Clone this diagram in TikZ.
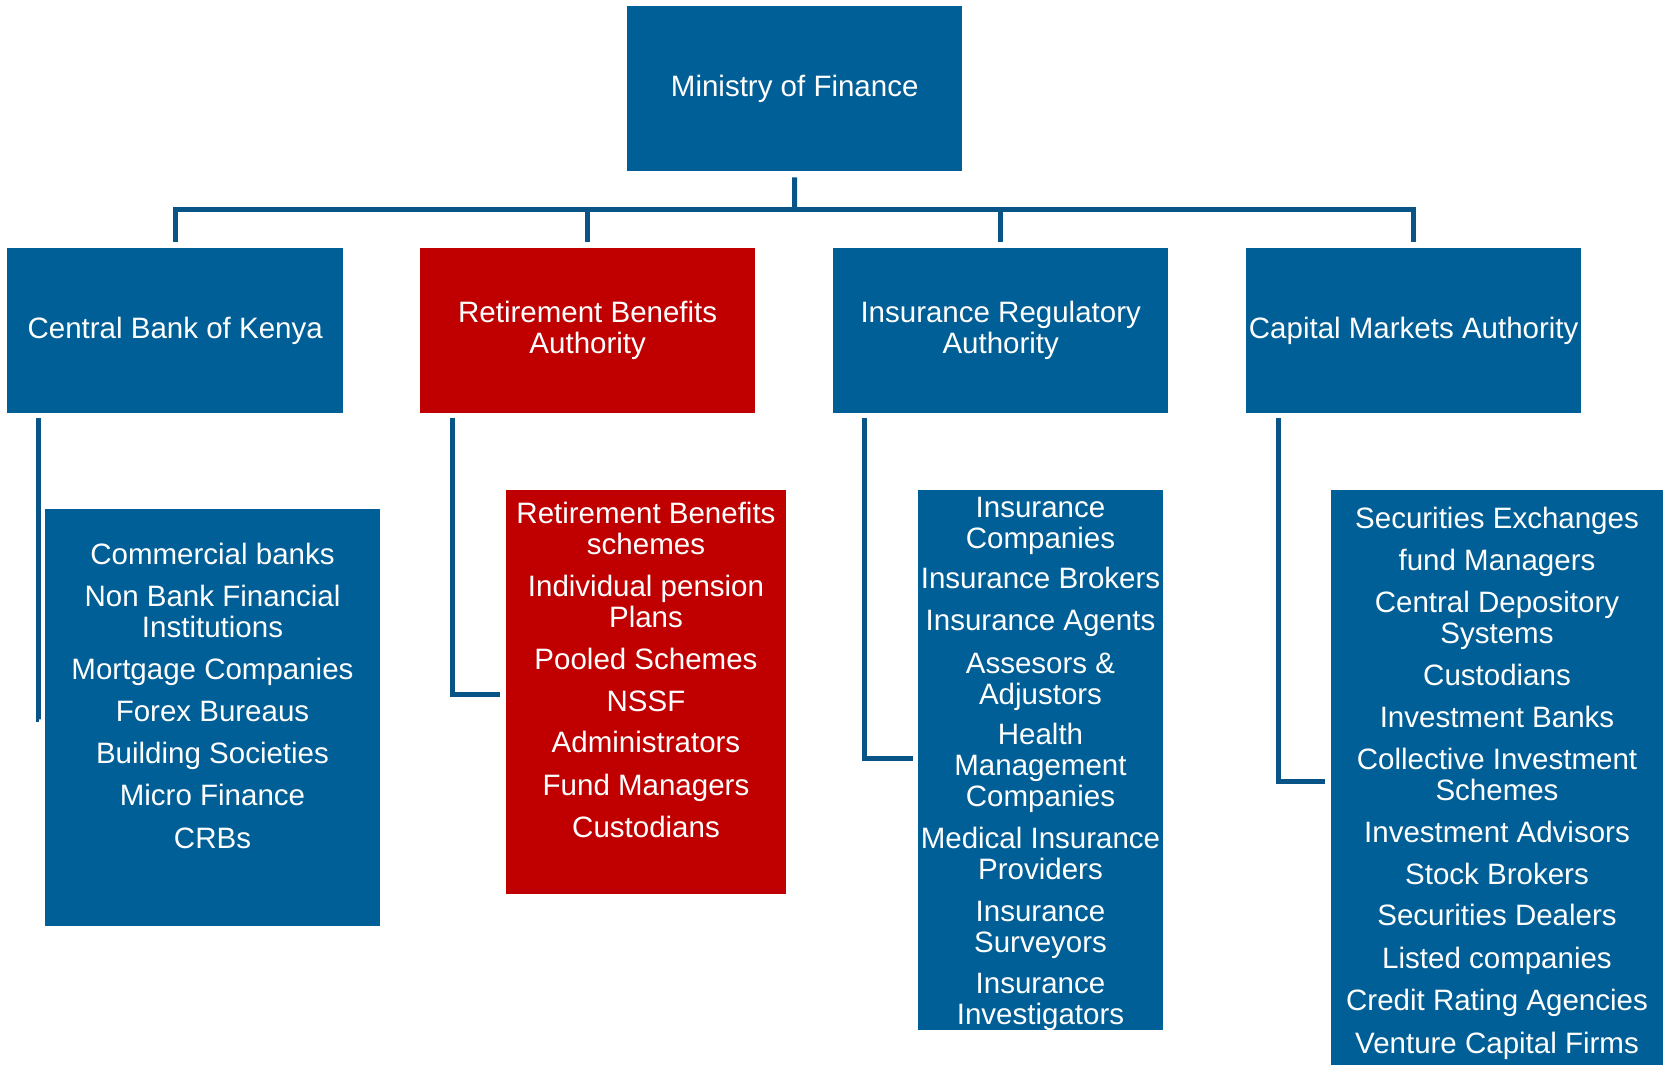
\documentclass[tikz,border=0pt]{standalone}
\usepackage{fontspec}
\setmainfont{Liberation Sans}
\definecolor{boxblue}{RGB}{0,95,150}
\definecolor{boxred}{RGB}{192,0,0}
\definecolor{lineblue}{RGB}{8,84,134}
\begin{document}
\begin{tikzpicture}[x=1pt,y=-1pt,
  font=\fontsize{29.5}{31}\selectfont,
  bx/.style={draw=none,inner sep=0pt,anchor=north west,text=white,align=center},
  bluebx/.style={bx,fill=boxblue},
  redbx/.style={bx,fill=boxred},
  item/.style={text=white,align=center,inner sep=0pt,yshift=-4.5pt},
  conn/.style={draw=lineblue,line width=5pt,line cap=butt,line join=miter}]
\useasboundingbox (0,0) rectangle (1663,1065);
% top
\node[bluebx,minimum width=335pt,minimum height=165pt] (m) at (627,6) {Ministry of Finance};
% children
\node[bluebx,minimum width=336pt,minimum height=165pt] (cbk) at (7,248) {Central Bank of Kenya};
\node[redbx,minimum width=335pt,minimum height=165pt] (rba) at (420,248) {Retirement Benefits\\Authority};
\node[bluebx,minimum width=335pt,minimum height=165pt] (ira) at (833,248) {Insurance Regulatory\\Authority};
\node[bluebx,minimum width=335pt,minimum height=165pt] (cma) at (1246,248) {Capital Markets Authority};
% sub boxes
\node[bluebx,minimum width=335pt,minimum height=417pt] (cbks) at (45,509) {};
\node[redbx,minimum width=280pt,minimum height=404pt] (rbas) at (506,490) {};
\node[bluebx,minimum width=245pt,minimum height=540pt] (iras) at (918,490) {};
\node[bluebx,minimum width=332pt,minimum height=575pt] (cmas) at (1331,490) {};
% bus
\coordinate (busc) at (794.5,209);
\draw[conn] ([yshift=-6pt]m.south) -- (busc);
\draw[conn] ([yshift=6pt]cbk.north) |- (busc) -| ([yshift=6pt]cma.north);
\draw[conn] ([yshift=6pt]rba.north) -- (rba.north |- busc);
\draw[conn] ([yshift=6pt]ira.north) -- (ira.north |- busc);
% elbows
\draw[conn] ([xshift=31pt,yshift=-5pt]cbk.south west) |- ([xshift=-6pt,yshift=-210pt]cbks.north west);
\draw[conn] ([xshift=32pt,yshift=-5pt]rba.south west) |- ([xshift=-6pt,yshift=-204pt]rbas.north west);
\draw[conn] ([xshift=31pt,yshift=-5pt]ira.south west) |- ([xshift=-5pt,yshift=-268pt]iras.north west);
\draw[conn] ([xshift=32pt,yshift=-5pt]cma.south west) |- ([xshift=-6pt,yshift=-291pt]cmas.north west);
% items
\foreach \t/\y [count=\i] in {\strut Commercial banks/554, {\strut Non Bank Financial\\\strut Institutions}/611.5, \strut Mortgage Companies/669, \strut Forex Bureaus/711, \strut Building Societies/753, \strut Micro Finance/795, \strut CRBs/838}
  \node[item] (cbki\i) at (212.5,\y) {\t};
\foreach \t/\y [count=\i] in {{\strut Retirement Benefits\\\strut schemes}/528.5, {\strut Individual pension\\\strut Plans}/601.5, \strut Pooled Schemes/659, \strut NSSF/701, \strut Administrators/742, \strut Fund Managers/785, \strut Custodians/827}
  \node[item] (rbai\i) at (646,\y) {\t};
\foreach \t/\y [count=\i] in {{\strut Insurance\\\strut Companies}/522, \strut Insurance Brokers/578, \strut Insurance Agents/620, {\strut Assesors \&\\\strut Adjustors}/678.5, {\strut Health\\\strut Management\\\strut Companies}/765, {\strut Medical Insurance\\\strut Providers}/853.5, {\strut Insurance\\\strut Surveyors}/926.5, {\strut Insurance\\\strut Investigators}/998.5}
  \node[item] (irai\i) at (1040.5,\y) {\t};
\foreach \t/\y [count=\i] in {\strut Securities Exchanges/518, \strut fund Managers/560, {\strut Central Depository\\\strut Systems}/617.5, \strut Custodians/675, \strut Investment Banks/717, {\strut Collective Investment\\\strut Schemes}/774.5, \strut Investment Advisors/832, \strut Stock Brokers/874, \strut Securities Dealers/915, \strut Listed companies/958, \strut Credit Rating Agencies/1000, \strut Venture Capital Firms/1043}
  \node[item] (cmai\i) at (1497,\y) {\t};
\end{tikzpicture}
\end{document}
